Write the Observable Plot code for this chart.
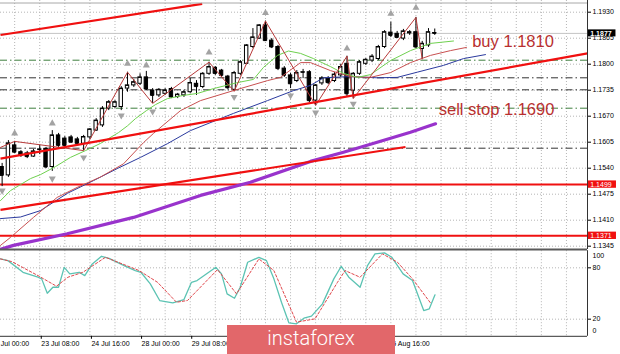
<!DOCTYPE html>
<html><head><meta charset="utf-8">
<script src="https://cdn.jsdelivr.net/npm/d3@7"></script>
<script src="https://cdn.jsdelivr.net/npm/@observablehq/plot@0.6"></script>
<style>
html,body{margin:0;padding:0;background:#fff;}
#wrap{position:relative;width:620px;height:354px;overflow:hidden;background:#fff;}
#main{position:absolute;left:0;top:0;}
#osc{position:absolute;left:0;top:248px;}
#wm{position:absolute;left:227px;top:325px;width:168px;height:29px;background:#e2676a;color:#fff;font-family:Roboto,"Open Sans",sans-serif;font-weight:300;font-size:20px;line-height:27px;text-align:center;}
</style></head><body>
<div id="wrap"><div id="main"></div><div id="osc"></div><div id="wm">instaforex</div></div>
<script>
// ---------- DATA ----------
const candleStart = 2; // index of first candle (H4 bars)
const candleOpen = [1.1543,1.1522,1.1597,1.1580,1.1577,1.1569,1.1586,1.1588,1.1543,1.1622,1.1614,1.1617,1.1612,1.1601,1.1617,1.1634,1.1647,1.1689,1.1693,1.1693,1.1739,1.1747,1.1751,1.1767,1.1734,1.1722,1.1726,1.1738,1.1718,1.1722,1.1730,1.1751,1.1743,1.1776,1.1791,1.1784,1.1769,1.1736,1.1776,1.1801,1.1843,1.1864,1.1897,1.1859,1.1843,1.1789,1.1772,1.1758,1.1779,1.1780,1.1709,1.1752,1.1764,1.1758,1.1772,1.1801,1.1734,1.1776,1.1801,1.1809,1.1813,1.1843,1.1879,1.1876,1.1864,1.1877,1.1880,1.1838,1.1847,1.1878];
const candleHigh = [1.1552,1.1609,1.1607,1.1584,1.1582,1.1587,1.1597,1.1592,1.1634,1.1627,1.1619,1.1622,1.1617,1.1622,1.1639,1.1664,1.1694,1.1709,1.1709,1.1744,1.1780,1.1762,1.1776,1.1782,1.1739,1.1739,1.1739,1.1742,1.1727,1.1734,1.1764,1.1759,1.1779,1.1805,1.1794,1.1787,1.1772,1.1782,1.1809,1.1849,1.1889,1.1899,1.1908,1.1864,1.1847,1.1794,1.1777,1.1784,1.1787,1.1784,1.1749,1.1769,1.1769,1.1779,1.1799,1.1820,1.1779,1.1809,1.1814,1.1824,1.1847,1.1884,1.1905,1.1882,1.1887,1.1884,1.1917,1.1857,1.1889,1.1888];
const candleLow = [1.1494,1.1517,1.1577,1.1567,1.1564,1.1567,1.1574,1.1539,1.1532,1.1592,1.1592,1.1602,1.1597,1.1584,1.1612,1.1632,1.1642,1.1684,1.1689,1.1684,1.1730,1.1742,1.1747,1.1734,1.1702,1.1717,1.1722,1.1714,1.1714,1.1717,1.1727,1.1722,1.1739,1.1772,1.1772,1.1767,1.1737,1.1732,1.1772,1.1799,1.1839,1.1862,1.1857,1.1839,1.1784,1.1767,1.1739,1.1754,1.1764,1.1704,1.1697,1.1747,1.1749,1.1754,1.1767,1.1719,1.1714,1.1772,1.1797,1.1804,1.1809,1.1839,1.1867,1.1864,1.1859,1.1872,1.1839,1.1813,1.1842,1.1872];
const candleClose = [1.1522,1.1602,1.1580,1.1572,1.1569,1.1582,1.1587,1.1543,1.1622,1.1597,1.1597,1.1605,1.1602,1.1618,1.1637,1.1659,1.1689,1.1705,1.1705,1.1739,1.1747,1.1755,1.1767,1.1738,1.1722,1.1736,1.1734,1.1718,1.1724,1.1730,1.1753,1.1744,1.1776,1.1793,1.1777,1.1772,1.1741,1.1778,1.1805,1.1847,1.1867,1.1897,1.1859,1.1843,1.1789,1.1772,1.1751,1.1778,1.1780,1.1709,1.1747,1.1764,1.1754,1.1774,1.1793,1.1726,1.1776,1.1805,1.1811,1.1819,1.1843,1.1880,1.1872,1.1867,1.1882,1.1880,1.1843,1.1851,1.1880,1.1877];

const greenI = [1.74,3.33,4.93,6.52,8.12,10.51,12.90,15.29,17.69,20.56,22.0,23.27,25.02,26.46,28.37,30.93,33.16,35.71,39.54,42.09,43.68,45.92,47.67,49.59,51.66,54.37,56.44,58.68,60.75,63.94,67.13,70.32,73.99];
const greenP = [1.1459,1.1484,1.1499,1.1514,1.1524,1.1544,1.1567,1.1584,1.1602,1.1629,1.1646,1.1664,1.1684,1.1699,1.1714,1.1722,1.1727,1.1739,1.1754,1.1762,1.1792,1.1822,1.1833,1.1827,1.1814,1.1794,1.1777,1.1767,1.1774,1.1809,1.1834,1.1852,1.1858];
const redMaI = [1.74,3.33,7.0,10.78,13.97,17.69,21.36,24.55,26.14,30.45,33.64,38.90,44.32,46.4,49.59,51.18,54.37,57.56,60.75,63.94,67.13,70.32,73.51,76.06];
const redMaP = [1.1347,1.1367,1.1417,1.1467,1.1492,1.1518,1.1551,1.1604,1.1627,1.1684,1.1709,1.1734,1.1759,1.1767,1.1804,1.1804,1.1784,1.1769,1.1767,1.1779,1.1804,1.1822,1.1834,1.1842];
const blueI = [1.74,4.93,8.12,12.38,16.57,20.35,24.07,28.33,32.04,38.9,44.32,48.47,51.18,53.25,55.97,57.56,61.82,65.01,68.2,72.39,75.58,79.09];
const blueP = [1.1414,1.1418,1.1434,1.1477,1.1509,1.1539,1.1567,1.1601,1.1634,1.1677,1.1709,1.1734,1.1747,1.1766,1.1768,1.1769,1.1766,1.1767,1.1780,1.1797,1.1814,1.1824];
const purpleI = [1.74,3.81,12.38,22.95,33.64,41.61,51.18,56.44,61.82,67.13,71.12];
const purpleP = [1.1337,1.1347,1.1376,1.1417,1.1472,1.1505,1.1557,1.1580,1.1605,1.1630,1.1651];

const zigzagI = [1.74,4,15,22,26,35,39,44,52,57,58,68,69];
const zigzagP = [1.1592,1.1607,1.1584,1.1780,1.1702,1.1805,1.1732,1.1908,1.1697,1.1820,1.1714,1.1917,1.1813];

const fractalUpI = [4,10,22,25,35,44,57,64,68];
const fractalUpP = [1.1627,1.1652,1.1801,1.1797,1.1829,1.1928,1.1839,1.1926,1.1941];
const fractalDownI = [2,10,15,21,26,39,48,52,58];
const fractalDownP = [1.1484,1.1514,1.1567,1.1672,1.1682,1.1718,1.1722,1.1679,1.1701];

const trendX1 = [1.74, 1.74, 1.74];
const trendP1 = [1.1873, 1.1564, 1.1436];
const trendX2 = [33.91, 95.36, 66.33];
const trendP2 = [1.1951, 1.1827, 1.1593];

const levelsRed = [1.1499, 1.1371];
const levelsDashBlack = [1.1766, 1.1736, 1.1590];
const levelsDashGreen = [1.1810, 1.1690];
const bidPrice = 1.1877;
const annotations = ["buy 1.1810", "sell stop 1.1690"];

const priceTicks = [1.1930,1.1865,1.1800,1.1735,1.1670,1.1605,1.1540,1.1475,1.1410,1.1345];
// visible time labels (the others sit under the watermark)
const timeTickI = [0,8,16,24,32,64];
const timeTickLabels = ["22 Jul 00:00","23 Jul 08:00","24 Jul 16:00","28 Jul 00:00","29 Jul 08:00","5 Aug 16:00"];
const oscTicks = [20, 80];

const stochI = [1.74,2.93,5.33,7.72,8.31,9.2,10.1,10.99,11.9,12.79,14.29,15.18,16.38,17.85,19.06,21.45,23.24,24.13,25.63,27.13,29.22,31.0,32.2,33.09,36.09,36.99,37.88,39.06,39.97,41.16,42.95,44.16,45.34,46.55,47.73,48.95,50.13,51.34,53.09,54.9,56.09,57.29,59.09,60.27,61.47,62.98,64.16,65.95,67.45,69.24,70.13,71.04];
const stochK = [90.4,88.4,74.8,69,67.1,50.3,57.3,57.3,80.6,72.9,74.8,70.9,84.6,93.5,91.1,82.6,76.8,74.8,61.3,41.8,39.1,42.9,63.1,65.1,80.6,72.9,49.6,44.5,57.3,86.5,92.3,88.4,67.1,39.8,15.8,14.6,21.1,23.5,37.9,67.1,81.8,69,57.3,82.6,96.3,97.4,92.3,72.9,65.1,30.1,32.1,48.4];
const signalI = [1.74,3.52,7.72,10.67,12.49,14.88,18.48,23.84,26.78,29.81,31.56,36.35,39.38,42.95,45.34,48.95,51.91,55.49,56.7,59.09,62.66,65.06,67.45,70.43];
const signalD = [90.4,87.3,70.9,58.5,69,74.8,92.3,76.8,63.1,39.8,41.8,77.9,49.6,90.4,76.8,16.5,20.4,63.1,76.8,69,96.3,86.5,67.1,37.9];

// ---------- BUILD ----------
const candles = candleOpen.map((o,k)=>({i:candleStart+k, open:o, high:candleHigh[k], low:candleLow[k], close:candleClose[k]}));
const bulls = candles.filter(d=>d.close>=d.open);
const bears = candles.filter(d=>d.close<d.open);
const pts = (xs, ys) => xs.map((x,k)=>({x, y:ys[k]}));
const trends = trendX1.map((x,k)=>({x1:x, y1:trendP1[k], x2:trendX2[k], y2:trendP2[k]}));
const xDomain = [1.74, 95.36];
const gridXTicks = d3.range(0, 96, 4);
const fmt4 = d3.format(".4f");
const font = "'Liberation Sans', Arial, sans-serif";
const hw = 0.27;
const gridStyle = {stroke:"#b5b5b5", strokeOpacity:1, strokeDasharray:"1,2"};

const main = Plot.plot({
  width:620, height:249, marginLeft:0, marginRight:33, marginTop:0, marginBottom:0,
  x:{domain:xDomain, axis:null, label:null},
  y:{domain:[1.133675, 1.195925], label:null},
  style:{background:"transparent", fontFamily:font, fontSize:"7px", color:"#000"},
  marks:[
    Plot.gridX(gridXTicks, gridStyle),
    Plot.gridY(priceTicks, gridStyle),
    Plot.ruleY(levelsDashBlack, {stroke:"#333", strokeDasharray:"7,3,1.5,3"}),
    Plot.ruleY(levelsDashGreen, {stroke:"#3d7f3d", strokeDasharray:"7,3,1.5,3"}),
    Plot.ruleY([bidPrice], {stroke:"#c4c4c4"}),
    Plot.ruleY(levelsRed, {stroke:"#f01010", strokeWidth:2}),
    Plot.ruleX(candles, {x:"i", y1:"low", y2:"high", stroke:"#000"}),
    Plot.rect(bulls, {x1:d=>d.i-hw, x2:d=>d.i+hw, y1:"open", y2:"close", fill:"#fff", stroke:"#000"}),
    Plot.rect(bears, {x1:d=>d.i-hw, x2:d=>d.i+hw, y1:"open", y2:"close", fill:"#000", stroke:"#000"}),
    Plot.ruleY(candles, {x1:d=>d.i-hw, x2:d=>d.i+hw, y:"close", stroke:"#000"}),
    Plot.line(pts(purpleI, purpleP), {x:"x", y:"y", stroke:"#9933cc", strokeWidth:3.2}),
    Plot.line(pts(blueI, blueP), {x:"x", y:"y", stroke:"#2b3a9e", strokeWidth:1}),
    Plot.line(pts(redMaI, redMaP), {x:"x", y:"y", stroke:"#c85050", strokeWidth:1}),
    Plot.line(pts(greenI, greenP), {x:"x", y:"y", stroke:"#6fd14f", strokeWidth:1}),
    Plot.line(pts(zigzagI, zigzagP), {x:"x", y:"y", stroke:"#b83a3a", strokeWidth:1}),
    Plot.link(trends, {x1:"x1", y1:"y1", x2:"x2", y2:"y2", stroke:"#f01010", strokeWidth:2.2}),
    Plot.dot(pts(fractalUpI, fractalUpP), {x:"x", y:"y", symbol:"triangle", r:2.6, fill:"#a3a3a3"}),
    Plot.dot(pts(fractalDownI, fractalDownP), {x:"x", y:"y", symbol:"triangle", r:2.6, fill:"#a3a3a3", rotate:180}),
    Plot.text([annotations[0]], {x:()=>76.97, y:()=>1.18425, text:d=>d, textAnchor:"start", lineAnchor:"bottom", fontSize:16.5, fill:"#b83030", fontFamily:font}),
    Plot.text([annotations[1]], {x:()=>71.64, y:()=>1.16718, text:d=>d, textAnchor:"start", lineAnchor:"bottom", fontSize:16.5, fill:"#b83030", fontFamily:font}),
    Plot.ruleY([1.1953], {stroke:"#a8a8a8"}),
    Plot.axisY(priceTicks, {anchor:"right", tickSize:3, tickPadding:2, tickFormat:fmt4, fontSize:7, label:null}),
    Plot.ruleX([95.36], {stroke:"#333"}),
    Plot.rect([bidPrice], {x1:()=>95.5, x2:()=>99.9, y1:d=>d-0.00088, y2:d=>d+0.00088, fill:"#000"}),
    Plot.text([bidPrice], {x:()=>95.8, y:d=>d, text:fmt4, textAnchor:"start", fill:"#fff", fontSize:7, fontWeight:"bold"}),
    Plot.rect(levelsRed, {x1:()=>95.5, x2:()=>99.98, y1:d=>d-0.00092, y2:d=>d+0.00092, fill:"#f01010"}),
    Plot.text(levelsRed, {x:()=>95.8, y:d=>d, text:fmt4, textAnchor:"start", fill:"#fff", fontSize:7})
  ]
});
document.getElementById("main").appendChild(main);

const osc = Plot.plot({
  width:620, height:106, marginLeft:0, marginRight:33, marginTop:2.2, marginBottom:18.2,
  x:{domain:xDomain, label:null},
  y:{domain:[0,100], label:null},
  style:{background:"transparent", fontFamily:font, fontSize:"7px", color:"#000"},
  marks:[
    Plot.gridX(gridXTicks, gridStyle),
    Plot.gridY(oscTicks, gridStyle),
    Plot.line(pts(stochI, stochK), {x:"x", y:"y", stroke:"#5cc3b3", strokeWidth:1.3}),
    Plot.line(pts(signalI, signalD), {x:"x", y:"y", stroke:"#e0474c", strokeWidth:1, strokeDasharray:"2.5,2"}),
    Plot.ruleY([101.4], {stroke:"#5a5a5a", strokeWidth:2}),
    Plot.ruleY([0], {stroke:"#333"}),
    Plot.ruleX([95.36], {stroke:"#333"}),
    Plot.axisX(timeTickI, {anchor:"bottom", tickSize:3, tickPadding:1.5, tickFormat:d=>timeTickLabels[timeTickI.indexOf(d)], textAnchor:"start", dx:1.5, fontSize:7, label:null}),
    Plot.axisY(oscTicks, {anchor:"right", tickSize:3, tickPadding:2, fontSize:7, label:null}),
    Plot.text([100], {y:d=>d, frameAnchor:"right", dx:5, dy:4.8, text:d=>String(d), textAnchor:"start", fontSize:7}),
    Plot.text([0], {y:d=>d, frameAnchor:"right", dx:5, dy:-5.8, text:d=>String(d), textAnchor:"start", fontSize:7})
  ]
});
document.getElementById("osc").appendChild(osc);
</script></body></html>
